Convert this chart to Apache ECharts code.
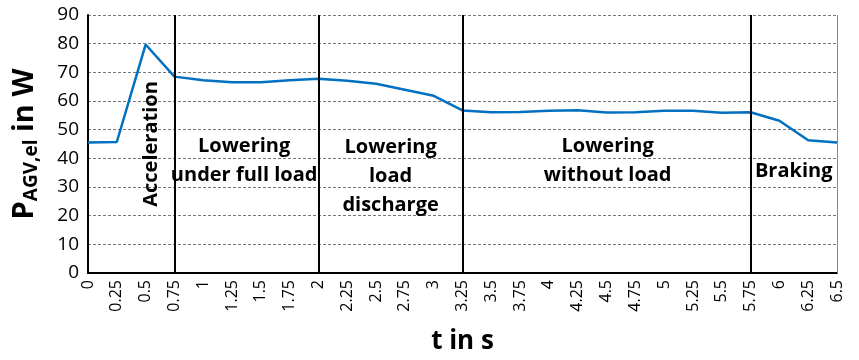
<!DOCTYPE html>
<html><head><meta charset="utf-8">
<script src="https://cdn.jsdelivr.net/npm/echarts@6/dist/echarts.min.js"></script>
<style>html,body{margin:0;padding:0;background:#fff}#c{width:859px;height:360px}</style>
</head><body><div id="c"></div>
<script>
const times = [0,0.25,0.5,0.75,1,1.25,1.5,1.75,2,2.25,2.5,2.75,3,3.25,3.5,3.75,4,4.25,4.5,4.75,5,5.25,5.5,5.75,6,6.25,6.5];
const power = [45.5,45.7,79.7,68.5,67.2,66.5,66.5,67.2,67.8,67.1,66.0,63.9,61.8,56.7,56.1,56.2,56.6,56.8,56.0,56.1,56.6,56.6,55.9,56.1,53.1,46.3,45.5];
const phaseBounds = [0.75,2,3.25,5.75];
const phaseLabels = [
  {text:'Acceleration', x:0.55, y:45, rotate:true},
  {text:'Lowering\nunder full load', x:1.355, y:39.3},
  {text:'Lowering\nload\ndischarge', x:2.626, y:33.8},
  {text:'Lowering\nwithout load', x:4.51, y:39.1},
  {text:'Braking', x:6.124, y:35.5}
];
const F = '"Open Sans", sans-serif';
const chart = echarts.init(document.getElementById('c'));
const opt = {
  animation:false,
  grid:{left:88,right:22,top:15,bottom:84},
  xAxis:{type:'value',min:0,max:6.5,interval:0.25,
    name:'t in s',nameLocation:'middle',nameGap:56,
    nameTextStyle:{fontFamily:F,fontSize:26,fontWeight:'bold',color:'#000'},
    axisLine:{lineStyle:{color:'#000',width:2}},axisTick:{show:false},
    axisLabel:{rotate:90,fontFamily:F,fontSize:16,color:'#000',margin:7,
      formatter:v=>String(Math.round(v*100)/100)},
    splitLine:{show:false}},
  yAxis:{type:'value',min:0,max:90,interval:10,
    name:'{p|P}{s|AGV,el}{p| in W}',nameLocation:'middle',nameGap:47,nameRotate:90,
    nameTextStyle:{rich:{p:{fontFamily:F,fontSize:29,fontWeight:'bold',color:'#000'},
      s:{fontFamily:F,fontSize:19,fontWeight:'bold',color:'#000',verticalAlign:'bottom',padding:[14,0,0,0]}}},
    axisLine:{show:true,lineStyle:{color:'#000',width:2}},axisTick:{show:false},
    axisLabel:{fontFamily:F,fontSize:19,color:'#000',margin:9},
    splitLine:{show:true,lineStyle:{color:'#777',type:[3,2],width:1}}},
  series:[{type:'line',data:times.map((t,i)=>[t,power[i]]),showSymbol:false,
    lineStyle:{color:'#0070C0',width:2.5},z:3,
    markLine:{silent:true,symbol:['none','none'],label:{show:false},
      data:[...phaseBounds.map(b=>({xAxis:b,lineStyle:{color:'#000',width:2,type:'solid'}})),
        {xAxis:6.5,lineStyle:{color:'#888',width:1,type:'solid'}}]}}]
};
chart.setOption(opt);
chart.setOption({graphic:phaseLabels.map(p=>{
  const pt = chart.convertToPixel({gridIndex:0},[p.x,p.y]);
  return {type:'text',x:pt[0],y:pt[1],rotation:p.rotate?Math.PI/2:0,z:10,
    style:{text:p.text,fontFamily:F,fontSize:20,fontWeight:'bold',fill:'#000',
      align:'center',verticalAlign:'middle',lineHeight:29}};
})});
</script></body></html>
